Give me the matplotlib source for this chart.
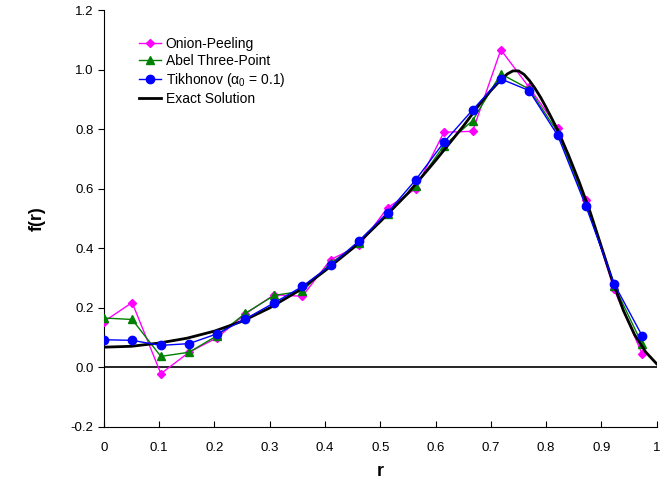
import matplotlib
matplotlib.use('Agg')
import matplotlib.pyplot as plt

plt.rcParams['font.family'] = ['Liberation Sans', 'DejaVu Sans']

# radial grid of the reconstructions
r = [0, 0.051, 0.103, 0.154, 0.205, 0.256, 0.308, 0.359, 0.410, 0.462,
     0.513, 0.564, 0.615, 0.667, 0.718, 0.769, 0.821, 0.872, 0.923, 0.974]

onion = [0.154, 0.218, -0.021, 0.051, 0.100, 0.180, 0.244, 0.239, 0.362, 0.410,
         0.536, 0.600, 0.790, 0.793, 1.067, 0.941, 0.805, 0.561, 0.262, 0.044]
abel = [0.166, 0.161, 0.037, 0.051, 0.107, 0.182, 0.242, 0.256, 0.350, 0.418,
        0.516, 0.611, 0.745, 0.829, 0.986, 0.935, 0.790, 0.550, 0.275, 0.077]
tikhonov = [0.093, 0.091, 0.074, 0.080, 0.113, 0.163, 0.217, 0.272, 0.343, 0.426,
            0.520, 0.630, 0.756, 0.865, 0.969, 0.930, 0.779, 0.541, 0.281, 0.105]

# exact solution
r_exact = [0, 0.05, 0.1, 0.15, 0.2, 0.25, 0.3, 0.35, 0.4, 0.45, 0.5, 0.55, 0.6,
           0.65, 0.68, 0.70, 0.72, 0.73, 0.74, 0.75, 0.76, 0.77, 0.78, 0.79, 0.80,
           0.81, 0.82, 0.84, 0.86, 0.88, 0.90, 0.92, 0.94, 0.96, 0.98, 1.0]
f_exact = [0.068, 0.071, 0.082, 0.098, 0.122, 0.155, 0.200, 0.255, 0.325, 0.400,
           0.490, 0.585, 0.695, 0.810, 0.885, 0.930, 0.970, 0.986, 0.996, 0.996,
           0.984, 0.963, 0.937, 0.907, 0.873, 0.837, 0.800, 0.715, 0.622, 0.520,
           0.405, 0.290, 0.190, 0.110, 0.052, 0.012]

xticks = [0, 0.1, 0.2, 0.3, 0.4, 0.5, 0.6, 0.7, 0.8, 0.9, 1.0]
xticklabels = ['0', '0.1', '0.2', '0.3', '0.4', '0.5', '0.6', '0.7', '0.8', '0.9', '1']
yticks = [-0.2, 0.0, 0.2, 0.4, 0.6, 0.8, 1.0, 1.2]

fig = plt.figure(figsize=(6.62, 4.83), dpi=100)
ax = fig.add_axes([0.157, 0.116, 0.835, 0.863])

ax.axhline(0, color='k', lw=1.2, zorder=1)

ax.plot(r, onion, color='#ff00ff', marker='D', ms=4, lw=1, label='Onion-Peeling', zorder=3)
ax.plot(r, abel, color='#008000', marker='^', ms=6, lw=1, label='Abel Three-Point', zorder=4)
ax.plot(r, tikhonov, color='#0000ff', marker='o', ms=6, lw=1,
        label=r'Tikhonov ($\mathregular{\alpha_0}$ = 0.1)', zorder=5)
ax.plot(r_exact, f_exact, color='k', lw=2, label='Exact Solution', zorder=4.5,
        solid_joinstyle='round')

ax.set_xlim(0, 1)
ax.set_ylim(-0.2, 1.2)
ax.set_xticks(xticks)
ax.set_xticklabels(xticklabels)
ax.set_yticks(yticks)
ax.set_yticklabels(['%.1f' % v for v in yticks])
ax.tick_params(axis='x', direction='in', length=4, labelsize=9.5, pad=11)
ax.tick_params(axis='y', direction='out', length=4, labelsize=9.5)
ax.spines['right'].set_visible(False)
ax.spines['top'].set_visible(False)

ax.set_xlabel('r', fontsize=13, fontweight='bold', labelpad=6)
ax.set_ylabel('f(r)', fontsize=13, fontweight='bold', labelpad=18)

ax.legend(loc='upper left', bbox_to_anchor=(0.04, 0.965), frameon=False, fontsize=10,
          handlelength=1.6, handletextpad=0.35, labelspacing=0.2)

fig.savefig('out.png', dpi=100)
